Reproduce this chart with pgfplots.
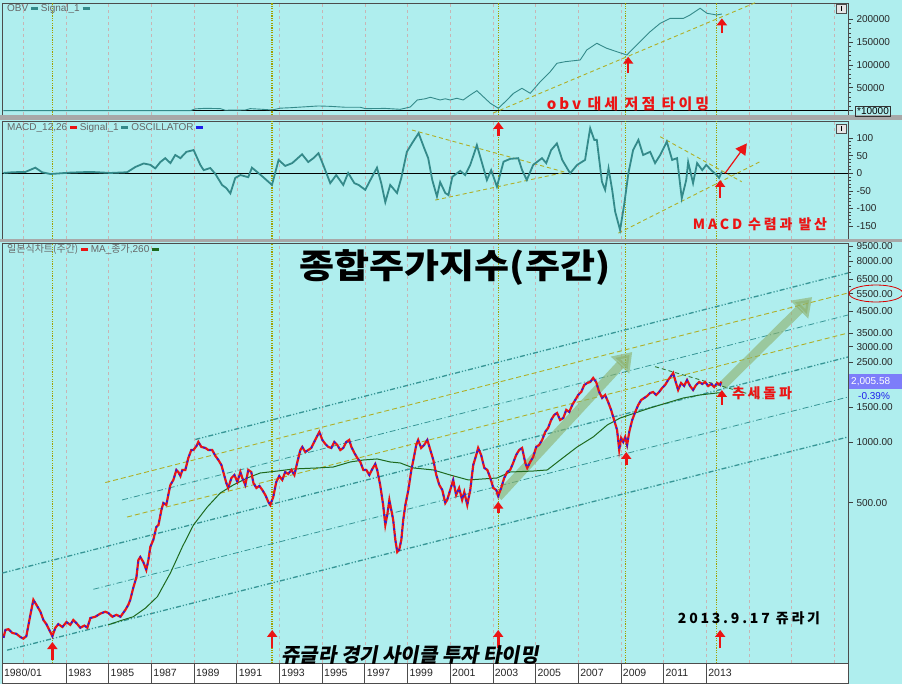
\documentclass[border=0pt]{standalone}
\usepackage{fontspec}
\setmainfont{Liberation Sans}
\newfontfamily\kr{Noto Sans CJK KR}
\newfontfamily\krsp[LetterSpace=20]{Noto Sans CJK KR}
\newfontfamily\krsl[FakeSlant=0.18]{Noto Sans CJK KR}
\usepackage{pgfplots}
\usepackage{pgfplotstable}
\pgfplotsset{compat=1.18}
\usetikzlibrary{arrows.meta}

\definecolor{bg}{RGB}{175,238,238}
\definecolor{tealline}{RGB}{52,138,138}
\definecolor{chan}{RGB}{55,150,150}
\definecolor{yel}{RGB}{175,175,40}
\definecolor{cyc}{RGB}{160,160,0}
\definecolor{gridc}{RGB}{200,180,180}
\definecolor{kred}{RGB}{235,20,20}
\definecolor{kblue}{RGB}{30,30,235}
\definecolor{mag}{RGB}{30,105,30}
\definecolor{sep}{RGB}{168,168,168}
\definecolor{arrowg}{RGB}{140,175,105}
\definecolor{boxblue}{RGB}{125,125,250}

\pgfplotstableread{
x y
1980.07 106
1980.16 116
1980.30 117
1980.49 112
1980.67 111
1980.86 107
1981.00 105
1981.14 108
1981.33 138
1981.47 164
1981.61 155
1981.80 143
1981.94 130
1982.08 124
1982.27 113
1982.36 108
1982.50 119
1982.64 124
1982.83 120
1983.02 127
1983.20 123
1983.34 130
1983.53 124
1983.67 119
1983.86 122
1984.00 119
1984.14 133
1984.37 135
1984.61 140
1984.84 143
1984.98 141
1985.17 135
1985.36 138
1985.55 135
1985.78 146
1985.92 155
1986.01 164
1986.15 188
1986.30 213
1986.39 259
1986.48 268
1986.62 253
1986.76 231
1986.86 259
1986.95 301
1987.09 326
1987.23 378
1987.33 387
1987.47 460
1987.56 498
1987.70 487
1987.79 546
1987.89 613
1988.03 649
1988.17 728
1988.26 711
1988.36 679
1988.45 728
1988.59 728
1988.73 835
1988.87 915
1988.97 915
1989.11 958
1989.20 1004
1989.34 948
1989.53 937
1989.67 915
1989.85 915
1990.00 855
1990.14 816
1990.28 771
1990.37 711
1990.51 627
1990.60 592
1990.75 664
1990.89 687
1991.03 634
1991.17 711
1991.26 664
1991.40 613
1991.54 728
1991.68 711
1991.78 627
1991.92 592
1992.06 606
1992.20 578
1992.34 546
1992.48 504
1992.57 487
1992.71 534
1992.85 634
1992.99 679
1993.13 649
1993.27 711
1993.41 695
1993.56 728
1993.70 687
1993.84 798
1993.98 915
1994.07 948
1994.21 895
1994.35 915
1994.49 937
1994.63 1004
1994.77 1075
1994.87 1126
1995.01 1027
1995.15 981
1995.29 948
1995.43 937
1995.57 1004
1995.71 970
1995.85 915
1995.99 937
1996.13 1004
1996.27 1027
1996.37 948
1996.51 885
1996.65 835
1996.79 798
1996.93 728
1997.07 728
1997.21 687
1997.35 736
1997.49 780
1997.58 728
1997.72 613
1997.86 487
1997.96 387
1998.05 434
1998.15 516
1998.24 460
1998.33 410
1998.43 326
1998.52 284
1998.61 291
1998.71 326
1998.80 410
1998.90 487
1999.04 578
1999.18 728
1999.32 864
1999.41 970
1999.50 1027
1999.64 937
1999.78 970
1999.93 1027
2000.07 915
2000.21 816
2000.35 687
2000.49 613
2000.63 578
2000.77 498
2000.86 516
2001.00 578
2001.14 649
2001.28 546
2001.42 592
2001.56 516
2001.66 565
2001.80 487
2001.94 578
2002.08 771
2002.22 864
2002.31 937
2002.45 864
2002.60 745
2002.74 728
2002.88 664
2003.02 592
2003.16 578
2003.25 540
2003.39 592
2003.53 664
2003.67 711
2003.81 728
2003.95 789
2004.09 864
2004.23 915
2004.37 937
2004.52 789
2004.61 745
2004.75 798
2004.89 845
2005.03 948
2005.17 970
2005.31 1027
2005.45 1126
2005.59 1179
2005.73 1292
2005.87 1368
2006.01 1400
2006.15 1292
2006.30 1322
2006.44 1450
2006.58 1416
2006.72 1535
2006.86 1626
2007.00 1722
2007.14 1782
2007.28 1930
2007.42 1975
2007.56 1998
2007.70 2092
2007.84 1998
2007.98 1782
2008.12 1663
2008.26 1722
2008.40 1589
2008.54 1450
2008.68 1292
2008.82 1152
2008.92 915
2009.01 1051
2009.11 1004
2009.20 1063
2009.29 970
2009.39 1126
2009.53 1292
2009.67 1416
2009.81 1535
2009.95 1626
2010.09 1663
2010.23 1702
2010.37 1762
2010.51 1782
2010.65 1722
2010.79 1782
2010.93 1865
2011.07 1930
2011.21 2044
2011.35 2140
2011.45 2215
2011.54 2044
2011.68 1823
2011.82 1975
2011.96 1908
2012.10 2044
2012.24 1908
2012.38 1823
2012.52 1930
2012.67 1998
2012.81 1953
2012.95 1998
2013.09 1908
2013.23 1953
2013.37 1887
2013.51 1975
2013.65 1930
2013.70 2006
}\pricedata

\pgfplotstableread{
x y
1984.98 123
1985.55 129
1986.15 135
1986.72 149
1987.28 170
1987.89 223
1988.45 301
1988.97 387
1989.62 476
1990.23 559
1990.84 613
1991.49 664
1992.10 703
1992.90 719
1993.65 736
1994.77 745
1995.52 753
1996.32 798
1996.93 816
1997.58 826
1998.19 798
1998.66 789
1999.27 745
2000.21 728
2001.00 687
2001.85 649
2003.20 664
2003.81 711
2004.89 719
2005.55 728
2006.15 816
2006.95 948
2007.70 1063
2008.36 1220
2008.97 1322
2010.37 1483
2011.92 1663
2012.71 1722
2013.51 1762
2013.70 1762
}\madata

\pgfplotstableread{
x y
1980.07 0
1988.82 0
1989.06 4000
1989.53 5200
1990.23 4500
1990.46 1000
1991.40 1500
1991.63 4500
1992.20 3000
1992.66 1500
1993.04 5500
1993.51 6500
1994.82 10300
1995.38 9500
1996.08 7500
1996.79 7500
1997.02 4500
1997.96 5000
1998.66 3000
1999.13 8000
1999.46 23400
1999.83 26000
2000.07 29300
2000.53 23400
2000.77 26000
2001.00 23400
2001.31 27100
2001.61 23400
2001.94 34300
2002.25 43700
2002.55 30600
2002.88 16200
2003.26 5200
2003.58 19700
2003.97 38000
2004.36 48900
2004.75 38000
2005.22 63300
2005.69 85200
2006.00 103500
2006.39 107000
2007.09 110700
2007.40 132500
2007.87 147200
2008.34 136200
2008.81 128800
2009.28 121600
2009.51 132500
2009.90 150600
2010.37 172500
2010.84 190800
2011.31 201700
2011.93 201700
2012.24 209000
2012.71 223600
2013.03 212700
2013.49 209000
2013.73 211100
}\obvdata

\pgfplotstableread{
x y
1980.07 1
1980.49 3
1981.10 4
1981.56 16
1981.88 3
1982.27 -2
1983.20 2
1984.14 4
1985.08 1
1985.86 3
1986.25 18
1986.64 28
1986.95 24
1987.18 14
1987.42 32
1987.65 43
1987.89 29
1988.12 52
1988.36 43
1988.64 61
1988.98 66
1989.15 43
1989.29 24
1989.45 9
1989.76 15
1990.00 -2
1990.31 -33
1990.51 -42
1990.70 -57
1990.93 -13
1991.17 -5
1991.54 -11
1991.71 16
1992.01 1
1992.24 -11
1992.65 -33
1992.96 38
1993.27 21
1993.60 29
1994.06 54
1994.35 32
1994.59 43
1994.83 57
1995.05 24
1995.38 -28
1995.66 -5
1995.99 -33
1996.22 1
1996.51 -28
1996.71 -33
1997.02 -47
1997.26 -19
1997.57 16
1997.77 -28
1997.96 -82
1998.19 -33
1998.51 -56
1998.71 -13
1998.97 61
1999.22 86
1999.52 114
1999.78 72
1999.97 43
2000.16 -19
2000.38 -66
2000.53 -25
2000.77 -56
2000.92 -62
2001.10 -10
2001.47 7
2001.70 -5
2001.94 24
2002.25 80
2002.45 38
2002.72 -19
2002.92 9
2003.19 -38
2003.50 33
2003.81 41
2004.19 43
2004.37 9
2004.59 -19
2004.89 24
2005.30 43
2005.50 29
2005.73 66
2006.00 85
2006.25 38
2006.62 0
2006.95 24
2007.32 38
2007.47 95
2007.56 128
2007.75 95
2007.87 95
2008.11 -24
2008.26 -47
2008.42 14
2008.59 -47
2008.73 -109
2008.96 -161
2009.15 -90
2009.35 0
2009.57 66
2009.82 95
2010.04 52
2010.37 61
2010.60 29
2010.84 52
2011.15 90
2011.40 38
2011.63 43
2011.85 -71
2012.06 -19
2012.15 32
2012.38 -28
2012.57 29
2012.81 9
2013.00 24
2013.23 9
2013.49 -5
2013.60 -13
2013.73 5
}\macddata

\tikzset{
  redarrow/.style={kred, line width=2.6pt, -{Triangle[length=7pt,width=10pt]}},
}
\pgfplotsset{
  panel/.style={
    scale only axis, width=846pt, xmin=1980, xmax=2019.64,
    axis line style={draw=black!70, line width=0.8pt},
    xtick={1981,1983,1985,1987,1989,1991,1993,1995,1997,1999,2001,2003,2005,2007,2009,2011,2013,2015,2017,2019},
    xticklabels={}, xtick style={draw=none},
    xmajorgrids, grid style={gridc, dash pattern=on 3pt off 3pt, line width=0.5pt},
    extra x ticks={1982.38,1992.65,2003.26,2009.23,2013.49}, extra x tick labels={},
    extra x tick style={grid=major, grid style={cyc, dash pattern=on 1.2pt off 1.2pt, line width=1.1pt}, major tick length=0pt},
    ytick pos=right, yticklabel pos=right, ytick align=outside,
    major tick length=5pt, minor tick length=3pt,
    ytick style={black!75, line width=0.6pt},
    tick label style={font=\fontsize{10}{12}\selectfont, text=black!85},
    scaled y ticks=false,
    clip mode=individual,
  },
  trend/.style={yel, line width=0.9pt, dash pattern=on 4pt off 3pt},
  chanthick/.style={chan, line width=1.3pt, dash pattern=on 5pt off 2pt on 1.2pt off 2pt on 1.2pt off 2pt},
  chanthin/.style={chan, line width=0.8pt, dash pattern=on 6pt off 2.5pt on 1pt off 2.5pt},
  yeldash/.style={yel, line width=0.9pt, dash pattern=on 5pt off 3pt},
}

\begin{document}
\begin{tikzpicture}
\useasboundingbox (0pt,0pt) rectangle (902pt,-684pt);
\fill[bg] (0pt,0pt) rectangle (902pt,-684pt);

% ---------- OBV panel ----------
\begin{axis}[panel, at={(2pt,-3pt)}, anchor=north west, height=112pt,
  ymin=-9400, ymax=235150,
  ytick={0,50000,100000,150000,200000}, yticklabels={,50000,100000,150000,200000},
  minor y tick num=4]
\addplot[black, line width=0.9pt] coordinates {(1985.92,0) (2019.64,0)};
\addplot[trend] coordinates {(2003.02,-5000) (2015.60,241700)};
\addplot[tealline, line width=0.9pt] table {\obvdata};
\draw[redarrow] (axis cs:2009.34,81700) -- (axis cs:2009.34,117900);
\draw[redarrow] (axis cs:2013.73,169000) -- (axis cs:2013.73,201700);
\end{axis}

% ---------- MACD panel ----------
\begin{axis}[panel, at={(2pt,-121pt)}, anchor=north west, height=118pt,
  ymin=-186.6, ymax=148.6,
  ytick={-150,-100,-50,0,50,100}, yticklabels={-150,-100,-50,0,50,100},
  minor y tick num=4]
\addplot[black, line width=0.8pt] coordinates {(1980,0) (2019.64,0)};
\addplot[trend] coordinates {(1999.21,123) (2006.39,3)};
\addplot[trend] coordinates {(2000.30,-76) (2006.39,3)};
\addplot[trend] coordinates {(2010.84,104) (2014.66,-24)};
\addplot[trend] coordinates {(2008.88,-170) (2015.52,33)};
\addplot[tealline, line width=1.8pt] table {\macddata};
\draw[redarrow] (axis cs:2003.26,105) -- (axis cs:2003.26,146);
\draw[redarrow] (axis cs:2013.65,-70) -- (axis cs:2013.65,-19);
\draw[kred, line width=1.2pt, -{Triangle[length=11pt,width=12pt]}] (axis cs:2013.88,0) -- (axis cs:2014.90,85);
\end{axis}

% ---------- Price panel ----------
\begin{axis}[panel, at={(2pt,-243pt)}, anchor=north west, height=420pt,
  ymode=log, ymin=79.4, ymax=9852,
  ytick={500,1000,1500,2500,3000,3500,4500,5500,6500,8000,9500},
  yticklabels={500.00,1000.00,1500.00,2500.00,3000.00,3500.00,4500.00,5500.00,6500.00,8000.00,9500.00},
  minor ytick={2000,4000,5000,6000,7000,7500,8500,9000}]
\addplot[chanthick] coordinates {(1989.06,1033) (2019.64,6982)};
\addplot[yeldash] coordinates {(1984.84,630) (2019.64,5550)};
\addplot[chanthin] coordinates {(1985.63,516) (2019.64,4312)};
\addplot[yeldash] coordinates {(1985.86,424) (2019.64,3506)};
\addplot[chanthick] coordinates {(1980.02,223) (2019.64,2662)};
\addplot[chanthin] coordinates {(1984.28,185) (2019.64,1682)};
\addplot[chanthick] coordinates {(1980.24,92) (2019.64,1063)};
\addplot[arrowg, opacity=0.6, line width=9pt, -{Triangle[length=18pt,width=24pt]}] coordinates {(2003.25,534) (2009.53,2820)};
\addplot[arrowg, opacity=0.6, line width=9pt, -{Triangle[length=18pt,width=24pt]}] coordinates {(2013.74,1908) (2017.96,5300)};
\addplot[mag, line width=1pt] table {\madata};
\addplot[mag!90, line width=0.9pt, dash pattern=on 4pt off 3pt] coordinates {(2010.60,2382) (2015.68,1657)};
\addplot[kred, line width=2.2pt] table {\pricedata};
\addplot[kblue, line width=1.5pt, dash pattern=on 2pt off 4.5pt] table {\pricedata};
\draw[redarrow] (axis cs:2003.25,443) -- (axis cs:2003.25,506);
\draw[redarrow] (axis cs:2009.25,771) -- (axis cs:2009.25,895);
\draw[redarrow] (axis cs:2013.73,1535) -- (axis cs:2013.73,1823);
\draw[redarrow] (axis cs:1982.36,82) -- (axis cs:1982.36,101);
\draw[redarrow] (axis cs:1992.66,94) -- (axis cs:1992.66,116);
\draw[redarrow] (axis cs:2003.25,94) -- (axis cs:2003.25,116);
\draw[redarrow] (axis cs:2013.65,94) -- (axis cs:2013.65,116);
\end{axis}

% ---------- date band ----------
\begin{axis}[scale only axis, width=846pt, height=20pt, at={(2pt,-663pt)}, anchor=north west,
  xmin=1980, xmax=2019.64, ymin=0, ymax=1, ytick=\empty,
  axis background/.style={fill=white},
  axis line style={draw=black!70, line width=0.8pt},
  xtick={1980,1983,1985,1987,1989,1991,1993,1995,1997,1999,2001,2003,2005,2007,2009,2011,2013},
  xticklabels={1980/01,1983,1985,1987,1989,1991,1993,1995,1997,1999,2001,2003,2005,2007,2009,2011,2013},
  xtick style={draw=none}, xmajorgrids, grid style={black!70, line width=0.7pt},
  xticklabel style={anchor=west, yshift=10pt, xshift=-1.5pt, font=\fontsize{10.5}{12}\selectfont, text=black!85}]
\end{axis}

\begin{scope}[x=1pt,y=1pt]
% separators
\fill[sep] (0,-115.5) rectangle (902,-120.5);
\fill[sep] (0,-239.5) rectangle (902,-242.5);

% legends
\node[anchor=west, text=black!60, font=\fontsize{10}{12}\selectfont, inner sep=0pt] at (7,-9)
  {OBV \textcolor{tealline}{\rule[0.3ex]{7pt}{2.5pt}} Signal\_1 \textcolor{tealline}{\rule[0.3ex]{7pt}{2.5pt}}};
\node[anchor=west, text=black!60, font=\fontsize{10}{12}\selectfont, inner sep=0pt] at (7,-128)
  {MACD\_12,26 \textcolor{kred}{\rule[0.3ex]{7pt}{2.5pt}} Signal\_1 \textcolor{tealline}{\rule[0.3ex]{7pt}{2.5pt}} OSCILLATOR \textcolor{kblue}{\rule[0.3ex]{7pt}{2.5pt}}};
\node[anchor=west, text=black!60, font=\fontsize{10}{12}\selectfont, inner sep=0pt] at (7,-249)
  {{\kr 일본식차트(주간)} \textcolor{kred}{\rule[0.3ex]{7pt}{2.5pt}} MA\_{\kr 종가},260 \textcolor{mag}{\rule[0.3ex]{7pt}{2.5pt}}};

% icons
\draw[black!70, fill=white!90!black] (836,-4) rectangle (846,-13);
\draw[black, line width=1pt] (841,-6) -- (841,-11);
\draw[black!70, fill=white!90!black] (836,-124) rectangle (846,-133);
\draw[black, line width=1pt] (841,-126) -- (841,-131);

% annotations
\node[xscale=1.12, transform shape] at (455,-268) {\kr\bfseries\fontsize{34}{38}\selectfont 종합주가지수(주간)};
\node[text=kred] at (628,-104) {\krsp\bfseries\fontsize{15}{17}\selectfont obv 대세 저점 타이밍};
\node[text=kred] at (760,-224) {\krsp\bfseries\fontsize{14}{16}\selectfont MACD 수렴과 발산};
\node[text=kred] at (762,-393) {\krsp\bfseries\fontsize{14}{16}\selectfont 추세돌파};
\node[text=black] at (749,-618) {\krsp\bfseries\fontsize{14}{16}\selectfont 2013.9.17 쥬라기};
\node[text=black] at (410,-655) {\krsl\bfseries\fontsize{20}{22}\selectfont 쥬글라 경기 사이클 투자 타이밍};

% right-side price tags
\node[draw=black!80, inner sep=1.5pt, font=\fontsize{10}{12}\selectfont] at (873,-111) {*10000};
\fill[boxblue] (849,-374) rectangle (902,-389);
\node[text=white, anchor=west, font=\fontsize{10}{12}\selectfont, inner sep=0pt] at (851,-381.5) {2,005.58};
\node[text=kblue, anchor=west, font=\fontsize{10}{12}\selectfont, inner sep=0pt] at (858,-396) {-0.39\%};
\draw[red!85!black, line width=0.8pt] (876,-293.5) ellipse (27 and 8.5);
\end{scope}
\end{tikzpicture}
\end{document}
